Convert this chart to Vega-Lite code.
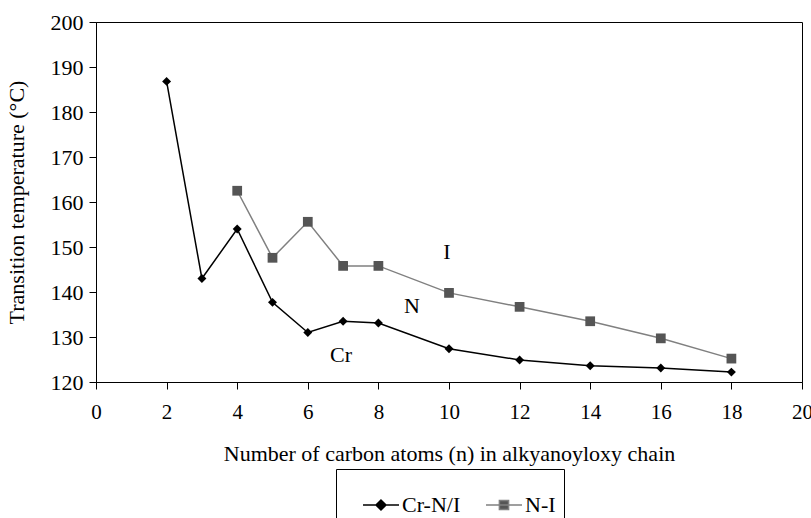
{
  "$schema": "https://vega.github.io/schema/vega-lite/v6.json",
  "autosize": "none",
  "width": 706,
  "height": 360,
  "padding": {"left": 96, "top": 22, "right": 9, "bottom": 136},
  "background": "white",
  "config": {
    "font": "Liberation Serif",
    "view": {"stroke": "#000", "strokeWidth": 1},
    "axis": {"grid": false, "domainColor": "#000", "tickColor": "#000", "labelColor": "#000", "titleColor": "#000", "labelFont": "Liberation Serif", "titleFont": "Liberation Serif", "labelFontSize": 22, "titleFontSize": 22, "titleFontWeight": "normal", "tickSize": 7},
    "legend": {"labelFont": "Liberation Serif", "labelFontSize": 22, "labelColor": "#000"}
  },
  "data": {
    "values": [
      {"n": 2, "T": 186.8, "s": "Cr-N/I"},
      {"n": 3, "T": 143.0, "s": "Cr-N/I"},
      {"n": 4, "T": 154.0, "s": "Cr-N/I"},
      {"n": 5, "T": 137.7, "s": "Cr-N/I"},
      {"n": 6, "T": 131.0, "s": "Cr-N/I"},
      {"n": 7, "T": 133.5, "s": "Cr-N/I"},
      {"n": 8, "T": 133.1, "s": "Cr-N/I"},
      {"n": 10, "T": 127.4, "s": "Cr-N/I"},
      {"n": 12, "T": 124.9, "s": "Cr-N/I"},
      {"n": 14, "T": 123.6, "s": "Cr-N/I"},
      {"n": 16, "T": 123.1, "s": "Cr-N/I"},
      {"n": 18, "T": 122.2, "s": "Cr-N/I"},
      {"n": 4, "T": 162.5, "s": "N-I"},
      {"n": 5, "T": 147.6, "s": "N-I"},
      {"n": 6, "T": 155.6, "s": "N-I"},
      {"n": 7, "T": 145.8, "s": "N-I"},
      {"n": 8, "T": 145.8, "s": "N-I"},
      {"n": 10, "T": 139.8, "s": "N-I"},
      {"n": 12, "T": 136.7, "s": "N-I"},
      {"n": 14, "T": 133.5, "s": "N-I"},
      {"n": 16, "T": 129.7, "s": "N-I"},
      {"n": 18, "T": 125.2, "s": "N-I"}
    ]
  },
  "encoding": {
    "x": {"field": "n", "type": "quantitative", "scale": {"domain": [0, 20], "nice": false}, "axis": {"values": [0, 2, 4, 6, 8, 10, 12, 14, 16, 18, 20], "title": "Number of carbon atoms (n) in alkyanoyloxy chain", "labelFontSize": 21, "labelPadding": 12, "titleY": 61, "labelFlush": false}},
    "y": {"field": "T", "type": "quantitative", "scale": {"domain": [120, 200], "nice": false, "zero": false}, "axis": {"values": [120, 130, 140, 150, 160, 170, 180, 190, 200], "title": "Transition temperature (°C)", "titleX": -68, "labelPadding": 6}}
  },
  "layer": [
    {
      "mark": {"type": "line", "strokeWidth": 1.5},
      "encoding": {
        "color": {"field": "s", "type": "nominal", "scale": {"domain": ["Cr-N/I", "N-I"], "range": ["#000000", "#808080"]}, "legend": {"title": null, "orient": "none", "direction": "horizontal", "legendX": 240, "legendY": 447, "strokeColor": "#000", "padding": 8, "symbolSize": 2916, "symbolStrokeWidth": 1.5, "columnPadding": 6, "labelOffset": 2, "labelExpr": "datum.label == 'N-I' ? 'N-I  ' : datum.label",
          "encode": {"symbols": {"update": {
            "shape": {"signal": "datum.value == 'Cr-N/I' ? 'M-0.333,0L1,0M0.148,0L0.333,-0.185L0.518,0L0.333,0.185Z' : 'M-0.333,0L1,0M0.163,-0.17L0.503,-0.17L0.503,0.17L0.163,0.17Z'"},
            "fill": {"signal": "datum.value == 'Cr-N/I' ? '#000000' : '#555555'"},
            "stroke": {"signal": "datum.value == 'Cr-N/I' ? '#000000' : '#808080'"},
            "strokeWidth": {"value": 1.5}
          }}}}}
      }
    },
    {
      "transform": [{"filter": "datum.s == 'Cr-N/I'"}],
      "mark": {"type": "point", "filled": true, "opacity": 1, "size": 80, "shape": "diamond", "color": "#000000"}
    },
    {
      "transform": [{"filter": "datum.s == 'N-I'"}],
      "mark": {"type": "point", "filled": true, "opacity": 1, "size": 95, "shape": "square", "color": "#555555"}
    },
    {
      "data": {"values": [{"n": 9.94, "T": 149, "label": "I"}, {"n": 8.95, "T": 136.8, "label": "N"}, {"n": 6.94, "T": 126.1, "label": "Cr"}]},
      "mark": {"type": "text", "fontSize": 22, "font": "Liberation Serif", "color": "#000"},
      "encoding": {"text": {"field": "label"}}
    }
  ]
}
